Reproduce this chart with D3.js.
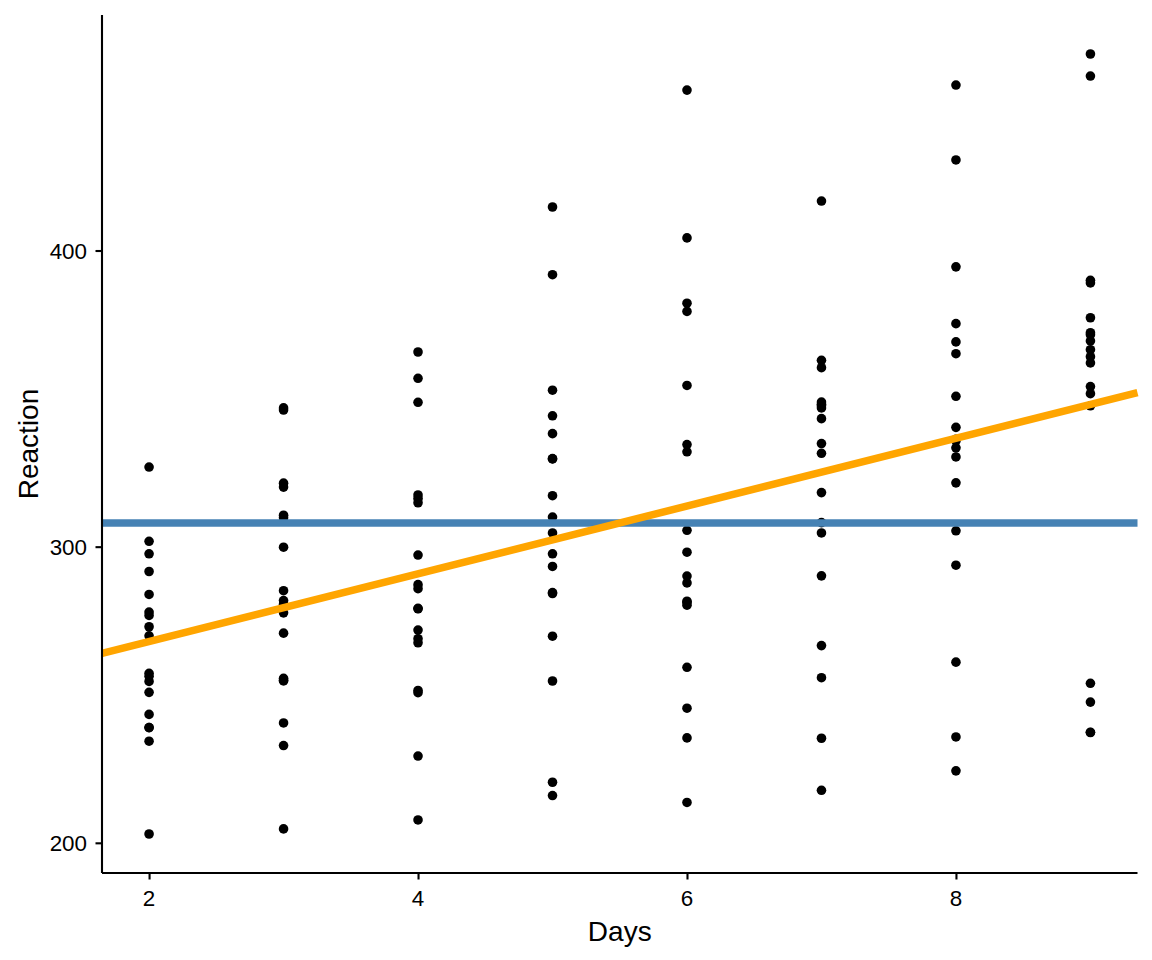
<!DOCTYPE html>
<html><head><meta charset="utf-8">
<script src="https://cdn.jsdelivr.net/npm/d3@7"></script>
<style>body{margin:0;background:#fff}svg{display:block}text{font-family:"Liberation Sans",Arial,sans-serif}
.lbl{font-size:22.4px}</style>
</head><body><svg id="c" width="1152" height="960"></svg>
<script>
const days = [2,3,4,5,6,7,8,9];
const subjects = ["308","309","310","330","331","332","333","334","335","337","349","350","351","352","369","370","371","372"];
// Reaction for days 2..9 per subject
const reaction = [
 [250.8006,321.4398,356.8519,414.6901,382.2038,290.1486,430.5853,466.3535],
 [202.9778,204.7070,207.7161,215.9618,213.6303,217.7272,224.2957,237.3142],
 [234.3200,232.8416,229.3074,220.4579,235.4208,255.7511,261.0125,247.5153],
 [283.8565,285.1330,285.7973,297.5855,280.2396,318.2613,305.3495,354.0487],
 [301.8206,320.1153,316.2773,293.3187,290.0750,334.8177,293.7469,371.5811],
 [272.9613,309.7688,317.4629,309.9976,454.1619,346.8311,330.3003,253.8644],
 [276.7693,299.8097,297.1710,338.1665,332.0265,348.8399,333.3600,362.0428],
 [243.3647,254.6723,279.0244,284.1912,305.5248,331.5229,335.7469,377.2990],
 [254.4907,270.8021,251.4519,254.6362,245.4523,235.3110,235.7541,237.2466],
 [291.6112,346.1222,365.7324,391.8385,404.2601,416.6923,455.8643,458.9167],
 [238.9256,254.9220,250.7103,269.7744,281.5648,308.1020,336.2806,351.6451],
 [256.2046,255.5271,268.9165,329.7247,379.4445,362.9184,394.4872,389.0527],
 [269.8939,280.5891,271.8274,304.6336,287.7466,266.5955,321.5418,347.5655],
 [326.8785,346.8555,348.7402,352.8287,354.4266,360.4326,375.3041,389.9184],
 [257.2424,277.6566,314.8222,317.2135,298.1353,348.1229,340.2800,366.5131],
 [238.9008,240.4730,267.5373,344.1937,281.1481,347.5855,365.1630,372.2288],
 [277.8989,281.7895,279.1705,284.5120,259.2658,304.6306,350.7807,369.4692],
 [297.5968,310.6316,287.1726,329.6076,334.4818,343.2199,369.1417,364.1236]
];
const xTicks = [2,4,6,8];
const yTicks = [200,300,400];

const pts = [];
subjects.forEach((s,i)=>days.forEach((d,j)=>pts.push({x:d,y:reaction[i][j]})));
const mx = d3.mean(pts,p=>p.x), my = d3.mean(pts,p=>p.y);
const slope = d3.sum(pts,p=>(p.x-mx)*(p.y-my))/d3.sum(pts,p=>(p.x-mx)**2);
const intercept = my - slope*mx;

const L=102,R=1137.5,T=15,B=873;
const xr=d3.extent(pts,p=>p.x), yr=d3.extent(pts,p=>p.y);
const xe=(xr[1]-xr[0])*0.05, ye=(yr[1]-yr[0])*0.05;
const x=d3.scaleLinear().domain([xr[0]-xe,xr[1]+xe]).range([L,R]);
const y=d3.scaleLinear().domain([yr[0]-ye,yr[1]+ye]).range([B,T]);
const svg=d3.select("#c");

svg.append("g").selectAll("circle").data(pts).join("circle")
 .attr("cx",p=>x(p.x)).attr("cy",p=>y(p.y)).attr("r",4.8).attr("fill","#000");

const [x0,x1]=x.domain();
svg.append("line").attr("x1",x(x0)).attr("x2",x(x1)).attr("y1",y(my)).attr("y2",y(my))
 .attr("stroke","#4682B4").attr("stroke-width",7.5);
svg.append("line").attr("x1",x(x0)).attr("x2",x(x1))
 .attr("y1",y(intercept+slope*x0)).attr("y2",y(intercept+slope*x1))
 .attr("stroke","#FFA500").attr("stroke-width",7.5);

const xa=svg.append("g").attr("transform",`translate(0,${B})`)
 .call(d3.axisBottom(x).tickValues(xTicks).tickSize(6.5).tickFormat(""));
const ya=svg.append("g").attr("transform",`translate(${L},0)`)
 .call(d3.axisLeft(y).tickValues(yTicks).tickSize(6.5).tickFormat(""));
[xa,ya].forEach(a=>{
 a.select(".domain").attr("stroke","#000").attr("stroke-width",2.1);
 a.selectAll(".tick line").attr("stroke","#000").attr("stroke-width",2.1);
 a.selectAll(".tick text").remove();
});
xa.select(".domain").attr("d",`M${L},0H${R}`);
ya.select(".domain").attr("d",`M0,${B}V${T}`);

svg.append("g").selectAll("text").data(xTicks).join("text").attr("class","lbl")
 .attr("x",d=>x(d)).attr("y",906).attr("text-anchor","middle").attr("fill","#000").text(d=>d);
svg.append("g").selectAll("text").data(yTicks).join("text").attr("class","lbl")
 .attr("x",87).attr("y",d=>y(d)+8).attr("text-anchor","end").attr("fill","#000").text(d=>d);

svg.append("text").attr("x",(L+R)/2).attr("y",941).attr("text-anchor","middle")
 .style("font-size","28px").attr("fill","#000").text("Days");
svg.append("text").attr("transform",`translate(38,${(T+B)/2}) rotate(-90)`).attr("text-anchor","middle")
 .style("font-size","28px").attr("fill","#000").text("Reaction");
</script></body></html>
